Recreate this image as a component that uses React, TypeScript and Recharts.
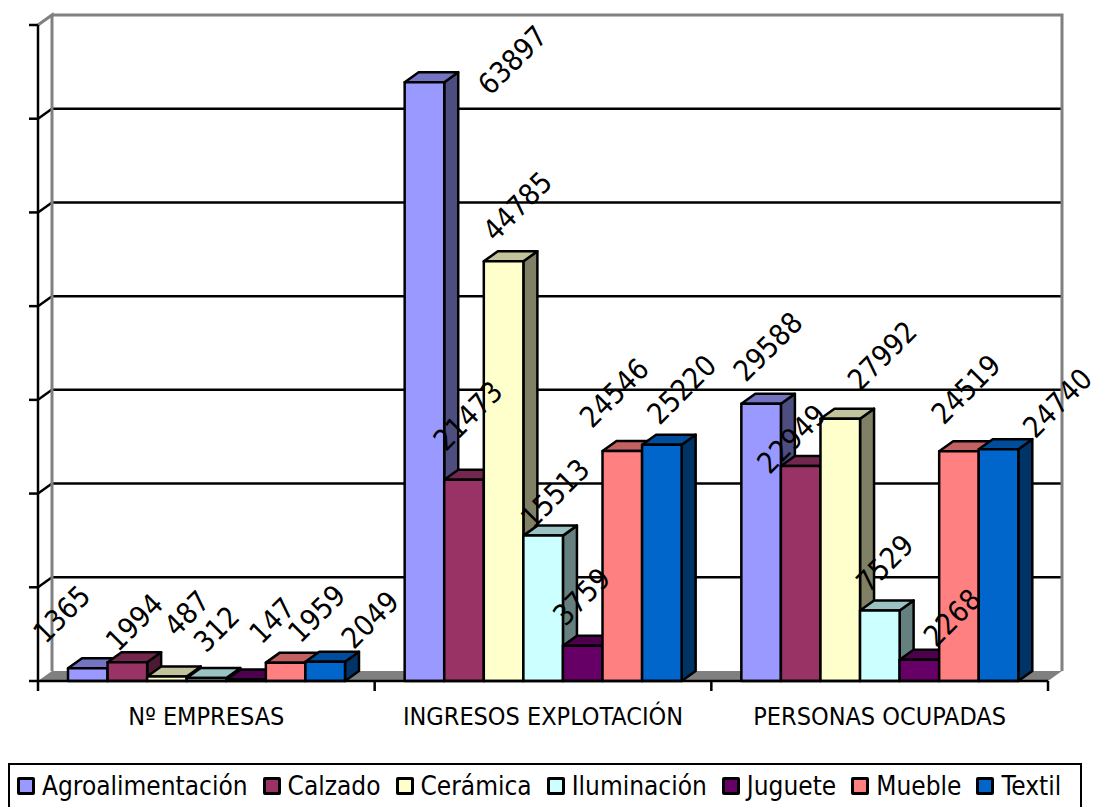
// App.tsx - sector comparison drawn as a pseudo 3D column chart

import {
  BarChart,
  Bar,
  XAxis,
  YAxis,
  CartesianGrid,
  Legend,
  LabelList,
  usePlotArea,
} from "recharts";

const categories = ["Nº EMPRESAS", "INGRESOS EXPLOTACIÓN", "PERSONAS OCUPADAS"];

const agroalimentacion = [1365, 63897, 29588];
const calzado = [1994, 21473, 22949];
const ceramica = [487, 44785, 27992];
const iluminacion = [312, 15513, 7529];
const juguete = [147, 3759, 2268];
const mueble = [1959, 24546, 24519];
const textil = [2049, 25220, 24740];

const yTicks = [0, 10000, 20000, 30000, 40000, 50000, 60000, 70000];

const FONT = "'DejaVu Sans Condensed', 'DejaVu Sans', sans-serif";
const DEPTH_X = 14;
const DEPTH_Y = 10;
const WALL = "#808080";

const rows = categories.map((name, i) => ({
  name,
  agroalimentacion: agroalimentacion[i],
  calzado: calzado[i],
  ceramica: ceramica[i],
  iluminacion: iluminacion[i],
  juguete: juguete[i],
  mueble: mueble[i],
  textil: textil[i],
}));

// label centre relative to the top middle of each column
const series = [
  { key: "agroalimentacion", name: "Agroalimentación", color: "#9999FF", shift: [[-26, -54], [88, -22], [7, -57]] },
  { key: "calzado", name: "Calzado", color: "#993366", shift: [[7, -40], [4, -64], [-9, -27]] },
  { key: "ceramica", name: "Cerámica", color: "#FFFFCC", shift: [[20, -63], [14, -55], [42, -63]] },
  { key: "iluminacion", name: "Iluminación", color: "#CCFFFF", shift: [[10, -49], [12, -42], [5, -47]] },
  { key: "juguete", name: "Juguete", color: "#660066", shift: [[26, -59], [-1, -49], [33, -42]] },
  { key: "mueble", name: "Mueble", color: "#FF8080", shift: [[31, -49], [-8, -58], [7, -62]] },
  { key: "textil", name: "Textil", color: "#0066CC", shift: [[45, -42], [20, -55], [59, -46]] },
];

const shade = (hex: string, k: number) => {
  const n = parseInt(hex.slice(1), 16);
  const c = [n >> 16, (n >> 8) & 255, n & 255].map((v) => Math.round(v * k));
  return `rgb(${c.join(",")})`;
};

const Column3D = ({ x, y, width, height, fill }: any) => {
  const common = { stroke: "#000", strokeWidth: 2.5, strokeLinejoin: "round" as const };
  return (
    <g>
      <polygon
        {...common}
        fill={shade(fill, 0.5)}
        points={`${x + width},${y} ${x + width + DEPTH_X},${y - DEPTH_Y} ${x + width + DEPTH_X},${y + height - DEPTH_Y} ${x + width},${y + height}`}
      />
      <polygon
        {...common}
        fill={shade(fill, 0.76)}
        points={`${x},${y} ${x + DEPTH_X},${y - DEPTH_Y} ${x + width + DEPTH_X},${y - DEPTH_Y} ${x + width},${y}`}
      />
      <rect {...common} x={x} y={y} width={width} height={height} fill={fill} />
    </g>
  );
};

const RotatedValue = ({ x, y, width, value, index, shift }: any) => (
  <text
    x={0}
    y={0}
    transform={`translate(${x + width / 2 + shift[index][0]},${y + shift[index][1]}) rotate(-45)`}
    textAnchor="middle"
    dominantBaseline="central"
    fontFamily={FONT}
    fontSize={29}
    fill="#000"
  >
    {value}
  </text>
);

// back wall edges, floor and the ticks between categories
const Walls = () => {
  const plot = usePlotArea();
  if (!plot) return null;
  const { x, y, width, height } = plot;
  const bottom = y + height;
  return (
    <g>
      <polygon
        fill={WALL}
        points={`${x},${bottom} ${x + DEPTH_X},${bottom - DEPTH_Y} ${x + width + DEPTH_X},${bottom - DEPTH_Y} ${x + width},${bottom}`}
      />
      <polyline
        fill="none"
        stroke={WALL}
        strokeWidth={3}
        points={`${x},${y} ${x + DEPTH_X},${y - DEPTH_Y} ${x + DEPTH_X},${bottom - DEPTH_Y}`}
      />
      <polyline
        fill="none"
        stroke={WALL}
        strokeWidth={3}
        points={`${x + DEPTH_X},${y - DEPTH_Y} ${x + width + DEPTH_X},${y - DEPTH_Y} ${x + width + DEPTH_X},${bottom - DEPTH_Y}`}
      />
      {[0, 1, 2, 3].map((i) => {
        const tx = x + (width * i) / categories.length;
        return <line key={i} x1={tx} x2={tx} y1={bottom} y2={bottom + 10} stroke="#000" strokeWidth={2.5} />;
      })}
    </g>
  );
};

const GridLine = ({ x1, x2, y1, index }: any) => {
  if (y1 >= 680 || y1 <= 26) return <g key={index} />;
  return (
    <g key={index} stroke="#000" strokeWidth={2.5}>
      <line x1={x1} y1={y1} x2={x1 + DEPTH_X} y2={y1 - DEPTH_Y} />
      <line x1={x1 + DEPTH_X} y1={y1 - DEPTH_Y} x2={x2 + DEPTH_X} y2={y1 - DEPTH_Y} />
    </g>
  );
};

const LegendBox = ({ payload }: any) => (
  <div
    style={{
      display: "flex",
      alignItems: "center",
      boxSizing: "border-box",
      height: 44,
      paddingLeft: 7,
      border: "2.5px solid #000",
      borderBottom: "none",
      fontFamily: FONT,
      fontSize: 26,
      color: "#000",
      whiteSpace: "nowrap",
      background: "#fff",
    }}
  >
    {(payload ?? []).map((p: any) => (
      <span key={p.value} style={{ display: "flex", alignItems: "center", marginRight: 15 }}>
        <span
          style={{
            display: "inline-block",
            boxSizing: "border-box",
            width: 18,
            height: 18,
            marginRight: 7,
            background: p.color,
            border: "3px solid #000",
            borderRadius: 2,
          }}
        />
        {p.value}
      </span>
    ))}
  </div>
);

export default function App() {
  return (
    <div style={{ position: "absolute", left: 0, top: 0, width: 1099, height: 807, overflow: "hidden", background: "#fff" }}>
      <BarChart
        width={1099}
        height={807}
        data={rows}
        margin={{ top: 25, right: 51, left: 28, bottom: 0 }}
        barSize={39.57}
        barGap={0}
      >
        <Walls />
        <CartesianGrid vertical={false} horizontal={GridLine} />
        <XAxis
          dataKey="name"
          height={82}
          axisLine={{ stroke: "#000", strokeWidth: 2.5 }}
          tickLine={false}
          interval={0}
          tickMargin={20}
          tick={{ fontFamily: FONT, fontSize: 25, fill: "#000" }}
        />
        <YAxis
          width={10}
          domain={[0, 70000]}
          ticks={yTicks}
          interval={0}
          tickSize={9}
          tick={() => <g />}
          axisLine={{ stroke: "#000", strokeWidth: 2.5 }}
          tickLine={{ stroke: "#000", strokeWidth: 2.5 }}
        />
        <Legend
          verticalAlign="bottom"
          content={LegendBox}
          wrapperStyle={{ left: 8, width: 1074, bottom: 0 }}
        />
        {series.map((s) => (
          <Bar
            key={s.key}
            dataKey={s.key}
            name={s.name}
            fill={s.color}
            shape={Column3D}
            isAnimationActive={false}
          >
            <LabelList dataKey={s.key} content={(props: any) => <RotatedValue {...props} shift={s.shift} />} />
          </Bar>
        ))}
      </BarChart>
    </div>
  );
}
